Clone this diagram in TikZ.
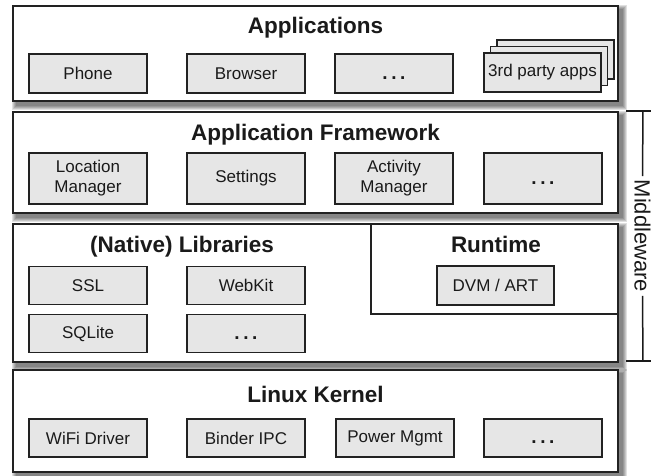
\documentclass[tikz,border=0pt]{standalone}
\usepackage{fontspec}
\setmainfont{Liberation Sans}
\usetikzlibrary{calc}
\pgfdeclarelayer{bg}
\pgfsetlayers{bg,main}
\definecolor{edge}{HTML}{222222}
\definecolor{cell}{HTML}{E6E6E6}
\definecolor{ink}{HTML}{1A1A1A}
\newcommand\celldots{\vphantom{A}{\bfseries\fontsize{19}{20}\selectfont .\hspace{3.6pt}.\hspace{3.6pt}.}}
\begin{document}
\begin{tikzpicture}[x=1pt,y=-1pt,
  layerbox/.style={draw=edge, fill=white, line width=1.6pt, inner sep=0pt, minimum width=605pt},
  cellbox/.style={draw=edge, fill=cell, line width=1.6pt, inner sep=0pt,
    minimum width=118pt, minimum height=38pt, align=center, text=ink,
    font=\fontsize{17}{20}\selectfont},
  title/.style={font=\bfseries\fontsize{22.5}{26}\selectfont, text=ink, anchor=base, inner sep=0pt},
  bracket/.style={draw=ink, line width=1.5pt},
]
\useasboundingbox (0,0) rectangle (651,475);

% stack layers
\node[layerbox, minimum height=95pt]  (apps) at (315.5,53.5) {};
\node[layerbox, minimum height=101pt] (fw)   at (315.5,162.5) {};
\node[layerbox, minimum height=138pt] (libs) at (315.5,293) {};
\node[layerbox, minimum height=102pt] (kern) at (315.5,421) {};
\node[draw=edge, line width=1.6pt, inner sep=0pt, minimum width=247pt, minimum height=90pt] (rt) at (494.5,269) {};

% soft drop shadows behind the layers
\begin{pgfonlayer}{bg}
  \foreach \n in {apps,fw,libs,kern}{
    \foreach \k in {0,...,4}{
      \fill[black,opacity=0.12] ($(\n.north west)+(\k,\k)$) rectangle ($(\n.south east)+(8-\k,8-\k)$);
    }
  }
\end{pgfonlayer}

% layer titles
\node[title] (tapps) at (315.5,33)  {Applications};
\node[title] (tfw)   at (315.5,140) {Application Framework};
\node[title] (tlibs) at (182,252)   {(Native) Libraries};
\node[title] (trt)   at (496,252)   {Runtime};
\node[title] (tkern) at (315.5,402) {Linux Kernel};

% applications
\node[cellbox, minimum height=39pt] (phone)   at (88,73.5)  {Phone};
\node[cellbox, minimum height=39pt] (browser) at (246,73.5) {Browser};
\node[cellbox, minimum height=39pt] (appdots) at (394,73.5) {\celldots};
\node[cellbox, minimum height=39pt, minimum width=117pt] (third3) at (555.5,59.5) {};
\node[cellbox, minimum height=39pt, minimum width=117pt] (third2) at (549,66) {};
\node[cellbox, minimum height=39pt, minimum width=117pt] (third1) at (542.5,72.5) {3rd party apps};

% application framework
\node[cellbox, minimum height=51pt] (loc)    at (88,178.5)  {Location\\Manager};
\node[cellbox, minimum height=51pt] (set)    at (246,178.5) {Settings};
\node[cellbox, minimum height=51pt] (act)    at (394,178.5) {Activity\\Manager};
\node[cellbox, minimum height=51pt] (fwdots) at (543,178.5) {\celldots};

% native libraries and runtime
\node[cellbox] (ssl)     at (88,285.5)  {SSL};
\node[cellbox] (webkit)  at (246,285.5) {WebKit};
\node[cellbox] (sqlite)  at (88,333.5)  {SQLite};
\node[cellbox] (libdots) at (246,333.5) {\celldots};
\node[cellbox, minimum width=117pt, minimum height=39pt] (dvm) at (495.5,285.5) {DVM / ART};

% kernel
\node[cellbox] (wifi)    at (88,438)  {WiFi Driver};
\node[cellbox] (binder)  at (246,438) {Binder IPC};
\node[cellbox] (power)   at (395,438) {Power Mgmt};
\node[cellbox] (kerdots) at (543,438) {\celldots};

% middleware bracket
\coordinate (mwtop) at (643,111);
\coordinate (mwbot) at (643,361);
\coordinate (mwtl) at (626,111);
\coordinate (mwtr) at (651,111);
\coordinate (mwbl) at (626,361);
\coordinate (mwbr) at (651,361);
\node[rotate=-90, inner xsep=3.5pt, inner ysep=0pt, text=ink, font=\fontsize{22}{26}\selectfont] (mw) at (642.5,236) {Middleware};
\draw[bracket] (mwtl) -- (mwtr);
\draw[bracket] (mwbl) -- (mwbr);
\draw[bracket] (mwtop) -- (mw.west);
\draw[bracket] (mw.east) -- (mwbot);
\end{tikzpicture}
\end{document}
